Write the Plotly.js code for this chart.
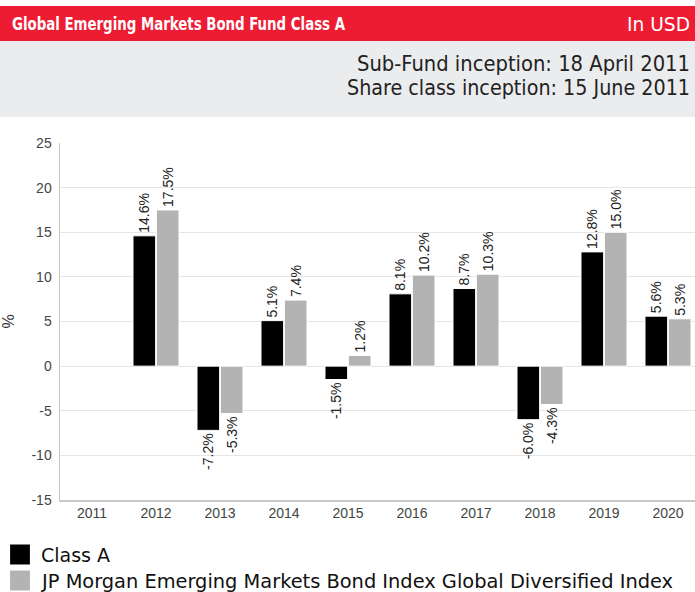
<!DOCTYPE html>
<html>
<head>
<meta charset="utf-8">
<script src="https://cdn.plot.ly/plotly-3.0.1.min.js"></script>
<style>
  html, body { margin: 0; padding: 0; overflow: hidden; background: #fff; }
  #chart { width: 702px; height: 592px; }
</style>
</head>
<body>
<div id="chart"></div>
<script>
const years = ["2011", "2012", "2013", "2014", "2015", "2016", "2017", "2018", "2019", "2020"];
const classA = [null, 14.6, -7.2, 5.1, -1.5, 8.1, 8.7, -6.0, 12.8, 5.6];
const benchmark = [null, 17.5, -5.3, 7.4, 1.2, 10.2, 10.3, -4.3, 15.0, 5.3];
const seriesNames = ["Class A", "JP Morgan Emerging Markets Bond Index Global Diversified Index"];
const yTicks = [-15, -10, -5, 0, 5, 10, 15, 20, 25];
const titleText = "Global Emerging Markets Bond Fund Class A";
const currencyText = "In USD";
const inceptionLines = ["Sub-Fund inception: 18 April 2011", "Share class inception: 15 June 2011"];

// plot area geometry (pixels)
const W = 702, H = 592;
const L = 60, R = 700, T = 143, B = 500;
const px2x = p => (p - L) / (R - L);
const py2y = p => (B - p) / (B - T);

const condensed = "Liberation Sans Narrow, DejaVu Sans Condensed, Arial Narrow, sans-serif";
const labelFont = { family: "Liberation Sans, Arial, sans-serif", size: 14, color: "#222" };

const traces = [
  {
    type: "bar", x: years, y: classA, name: seriesNames[0],
    marker: { color: "#000000", line: { color: "#ffffff", width: 1 } },
    text: classA.map(v => v === null ? "" : v.toFixed(1) + "%"),
    textposition: "outside", textangle: -90, cliponaxis: false,
    constraintext: "none", textfont: labelFont, hoverinfo: "x+y"
  },
  {
    type: "bar", x: years, y: benchmark, name: seriesNames[1],
    marker: { color: "#b3b3b3", line: { color: "#ffffff", width: 1 } },
    text: benchmark.map(v => v === null ? "" : v.toFixed(1) + "%"),
    textposition: "outside", textangle: -90, cliponaxis: false,
    constraintext: "none", textfont: labelFont, hoverinfo: "x+y"
  }
];

const layout = {
  width: W, height: H,
  margin: { l: L, r: W - R, t: T, b: H - B, autoexpand: false },
  paper_bgcolor: "#ffffff", plot_bgcolor: "#ffffff",
  barmode: "group", bargap: 0.27, bargroupgap: 0.03,
  showlegend: true,
  legend: {
    x: px2x(0), xanchor: "left", y: py2y(535), yanchor: "top",
    orientation: "v", font: { family: condensed, size: 20, color: "#111" },
    bgcolor: "rgba(0,0,0,0)", tracegroupgap: 0, itemclick: false, itemdoubleclick: false
  },
  xaxis: {
    type: "category", range: [-0.5, 9.5],
    showgrid: false, showline: true, linecolor: "#c8c8c8", linewidth: 1.5,
    ticks: "", tickfont: { family: "Liberation Sans, Arial, sans-serif", size: 14, color: "#444" },
    fixedrange: true
  },
  yaxis: {
    range: [-15, 25], tickvals: yTicks, ticktext: yTicks.map(String),
    showgrid: true, gridcolor: "#e6e6e6", gridwidth: 1,
    zeroline: true, zerolinecolor: "#e6e6e6", zerolinewidth: 1,
    showline: true, linecolor: "#c8c8c8", linewidth: 1.5,
    ticks: "", ticklabelstandoff: 4,
    tickfont: { family: "Liberation Sans, Arial, sans-serif", size: 14, color: "#444" },
    title: { text: "%", font: { family: "Liberation Sans, Arial, sans-serif", size: 16, color: "#333" }, standoff: 24 },
    fixedrange: true
  },
  shapes: [
    { type: "rect", xref: "paper", yref: "paper", x0: px2x(0), x1: px2x(W), y0: py2y(41), y1: py2y(6),
      fillcolor: "#ed1c33", line: { width: 0 }, layer: "below" },
    { type: "rect", xref: "paper", yref: "paper", x0: px2x(0), x1: px2x(W), y0: py2y(117), y1: py2y(41),
      fillcolor: "#ebecee", line: { width: 0 }, layer: "below" }
  ],
  annotations: [
    { xref: "paper", yref: "paper", x: px2x(12), y: py2y(23.5), xanchor: "left", yanchor: "middle",
      text: titleText, showarrow: false,
      font: { family: condensed, size: 18.5, weight: "bold", color: "#ffffff" } },
    { xref: "paper", yref: "paper", x: px2x(690), y: py2y(23.5), xanchor: "right", yanchor: "middle",
      text: currencyText, showarrow: false,
      font: { family: condensed, size: 20, color: "#ffffff" } },
    { xref: "paper", yref: "paper", x: px2x(690), y: py2y(64.5), xanchor: "right", yanchor: "middle",
      text: inceptionLines[0], showarrow: false,
      font: { family: condensed, size: 21, color: "#222" } },
    { xref: "paper", yref: "paper", x: px2x(690), y: py2y(87.5), xanchor: "right", yanchor: "middle",
      text: inceptionLines[1], showarrow: false,
      font: { family: condensed, size: 21, color: "#222" } }
  ]
};

// condense text horizontally to mimic the reference's condensed typeface
function fitText(el, left, width) {
  el.setAttribute("textLength", width);
  el.setAttribute("lengthAdjust", "spacingAndGlyphs");
  const r = el.getBoundingClientRect();
  const dx = left - r.left;
  const x0 = parseFloat(el.getAttribute("x") || "0");
  el.setAttribute("x", x0 + dx);
}

Plotly.newPlot("chart", traces, layout, { displayModeBar: false, staticPlot: true }).then(gd => {
  // remove legend clipping so the long entry is fully visible
  gd.querySelectorAll(".legend [clip-path], .legend").forEach(el => el.removeAttribute("clip-path"));
  gd.querySelectorAll(".legend .legendpoints path").forEach(p => {
    const t = p.getAttribute("transform") || "";
    p.setAttribute("transform", t + " scale(1.8)");
  });
  // tighten legend row spacing to match the reference
  const rows = gd.querySelectorAll(".legend g.traces");
  if (rows.length === 2) {
    const m = /translate\(\s*([-\d.]+)[ ,]+([-\d.]+)\s*\)/.exec(rows[0].getAttribute("transform") || "");
    if (m) rows[1].setAttribute("transform", "translate(" + m[1] + "," + (parseFloat(m[2]) + 26) + ")");
  }
  const ann = gd.querySelectorAll(".annotation-text");
  const spec = [[12, 333], [627, 63], [357, 333], [347, 343]];
  ann.forEach((el, i) => { if (spec[i]) fitText(el, spec[i][0], spec[i][1]); });
  const leg = gd.querySelectorAll(".legend text.legendtext");
  const legSpec = [[41, 69], [41, 631]];
  leg.forEach((el, i) => { if (legSpec[i]) fitText(el, legSpec[i][0], legSpec[i][1]); });
});
</script>
</body>
</html>
